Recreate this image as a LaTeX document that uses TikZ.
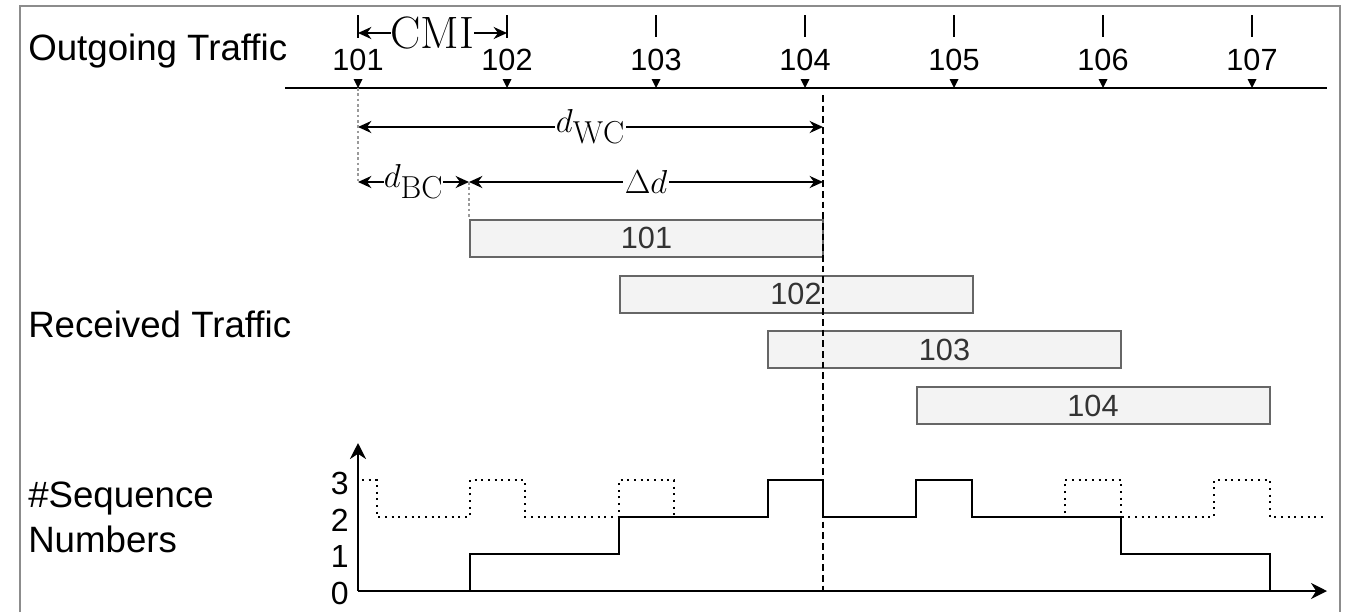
\documentclass[tikz,border=0pt]{standalone}
\usepackage{fontspec}
\setsansfont{Liberation Sans}
\usetikzlibrary{arrows.meta}
\pgfdeclarelayer{edgelayer}
\pgfdeclarelayer{nodelayer}
\pgfsetlayers{edgelayer,nodelayer,main}
\definecolor{framegray}{HTML}{8C8C8C}
\definecolor{boxgray}{HTML}{666666}
\definecolor{boxfill}{HTML}{F3F3F3}
\definecolor{guidegray}{HTML}{9A9A9A}
\tikzstyle{rowlabel}=[font=\sffamily\fontsize{27.5}{34}\selectfont, anchor=base west, inner sep=0pt]
\tikzstyle{seqno}=[font=\sffamily\fontsize{23}{26}\selectfont, inner sep=0pt]
\tikzstyle{packet}=[draw=boxgray, fill=boxfill, line width=1.5pt, minimum width=264.75pt, minimum height=27.75pt, inner sep=0pt, font=\sffamily\fontsize{23}{26}\selectfont, text=black!80]
\tikzstyle{levelnum}=[font=\sffamily\fontsize{24}{26}\selectfont, inner sep=0pt, anchor=east]
\tikzstyle{dimlabel}=[fill=white, inner sep=1pt, font=\fontsize{34}{36}\selectfont]
\tikzstyle{dimarrow}=[draw=black, line width=1.6pt, {Stealth[length=10pt,width=9pt]}-{Stealth[length=10pt,width=9pt]}]
\tikzstyle{axisline}=[draw=black, line width=1.6pt]
\tikzstyle{tickline}=[draw=black, line width=1.5pt]
\tikzstyle{guide}=[draw=guidegray, line width=2pt, dash pattern=on 2pt off 2pt]
\tikzstyle{marker}=[fill=black]

\begin{document}
\begin{tikzpicture}[x=0.75pt, y=-0.75pt]
	\useasboundingbox (0,0) rectangle (1345,612);
	\draw[framegray, line width=1.5pt] (20,612) -- (20,6) -- (1340,6) -- (1340,612);
	\begin{pgfonlayer}{nodelayer}
		\node [rowlabel] (out) at (28,60) {Outgoing Traffic};
		\node [rowlabel] (rec) at (28,337) {Received Traffic};
		\node [rowlabel] (seq1) at (28,507) {\#Sequence};
		\node [rowlabel] (seq2) at (28,552) {Numbers};
		\coordinate (t1) at (358,88);
		\coordinate (t2) at (507,88);
		\coordinate (t3) at (656,88);
		\coordinate (t4) at (805,88);
		\coordinate (t5) at (954,88);
		\coordinate (t6) at (1103,88);
		\coordinate (t7) at (1252,88);
		\node [seqno] (n1) at (358,60) {101};
		\node [seqno] (n2) at (507,60) {102};
		\node [seqno] (n3) at (656,60) {103};
		\node [seqno] (n4) at (805,60) {104};
		\node [seqno] (n5) at (954,60) {105};
		\node [seqno] (n6) at (1103,60) {106};
		\node [seqno] (n7) at (1252,60) {107};
		\node [packet] (p1) at (646.5,238) {101};
		\node [packet] (p2) at (796,294) {102};
		\node [packet] (p3) at (944.5,349.5) {103};
		\node [packet] (p4) at (1093,405.5) {104};
		\node [levelnum] (l3) at (349,483) {3};
		\node [levelnum] (l2) at (349,520) {2};
		\node [levelnum] (l1) at (349,556) {1};
		\node [levelnum] (l0) at (349,593) {0};
	\end{pgfonlayer}
	\begin{pgfonlayer}{edgelayer}
		\coordinate (axl) at (285,88);
		\coordinate (axr) at (1327,88);
		\draw [axisline] (axl) to (axr);
		\draw [tickline] (358,15) to (358,38);
		\draw [tickline] (507,15) to (507,38);
		\draw [tickline] (656,15) to (656,37);
		\draw [tickline] (805,15) to (805,37);
		\draw [tickline] (954,15) to (954,37);
		\draw [tickline] (1103,15) to (1103,37);
		\draw [tickline] (1252,15) to (1252,37);
		\fill [marker] (t1) -- ++(-4.5,-9) -- ++(9,0) -- cycle;
		\fill [marker] (t2) -- ++(-4.5,-9) -- ++(9,0) -- cycle;
		\fill [marker] (t3) -- ++(-4.5,-9) -- ++(9,0) -- cycle;
		\fill [marker] (t4) -- ++(-4.5,-9) -- ++(9,0) -- cycle;
		\fill [marker] (t5) -- ++(-4.5,-9) -- ++(9,0) -- cycle;
		\fill [marker] (t6) -- ++(-4.5,-9) -- ++(9,0) -- cycle;
		\fill [marker] (t7) -- ++(-4.5,-9) -- ++(9,0) -- cycle;
		% dimension lines
		\coordinate (cmiL) at (358,33);
		\coordinate (cmiR) at (507,33);
		\coordinate (wcL) at (358,127);
		\coordinate (wcR) at (823,127);
		\coordinate (bcL) at (358,182);
		\coordinate (bcR) at (469,182);
		\coordinate (ddR) at (823,182);
		\draw [dimarrow] (cmiL) to node [dimlabel, inner sep=0pt] {CMI} (cmiR);
		\draw [dimarrow] (wcL) to node [dimlabel] {$d_{\mathrm{WC}}$} (wcR);
		\draw [dimarrow] (bcL) to node [dimlabel, inner sep=0pt] {$d_{\mathrm{BC}}$} (bcR);
		\draw [dimarrow] (bcR) to node [dimlabel] {$\Delta d$} (ddR);
		\draw [guide] (t1) to (bcL);
		\draw [guide] (bcR) to (p1.north west);
		% sequence number plot
		\coordinate (o) at (358,591);
		\coordinate (ytop) at (358,443);
		\coordinate (xend) at (1327,591);
		\draw [black, line width=1.2pt, dash pattern=on 1.4pt off 3.6pt]
			(362,480) -- (377,480) -- (377,517) -- (470,517) -- (470,480) -- (525,480) -- (525,517)
			-- (619,517) -- (619,480) -- (674,480) -- (674,517) -- (768,517) -- (768,480) -- (823,480)
			-- (823,517) -- (916,517) -- (916,480) -- (972,480) -- (972,517) -- (1065,517) -- (1065,480)
			-- (1121,480) -- (1121,517) -- (1214,517) -- (1214,480) -- (1270,480) -- (1270,517) -- (1325,517);
		\draw [axisline]
			(o) -- (470,591) -- (470,554) -- (619,554) -- (619,517) -- (768,517) -- (768,480) -- (823,480)
			-- (823,517) -- (916,517) -- (916,480) -- (972,480) -- (972,517) -- (1121,517) -- (1121,554)
			-- (1270,554) -- (1270,591);
		\draw [axisline, -{Stealth[length=12pt,width=12pt]}] (o) to (ytop);
		\draw [axisline, -{Stealth[length=12pt,width=12pt]}] (o) to (xend);
	\end{pgfonlayer}
	\draw [black, line width=1.1pt, dash pattern=on 5pt off 3pt] (823,95) to (823,591);
\end{tikzpicture}
\end{document}
